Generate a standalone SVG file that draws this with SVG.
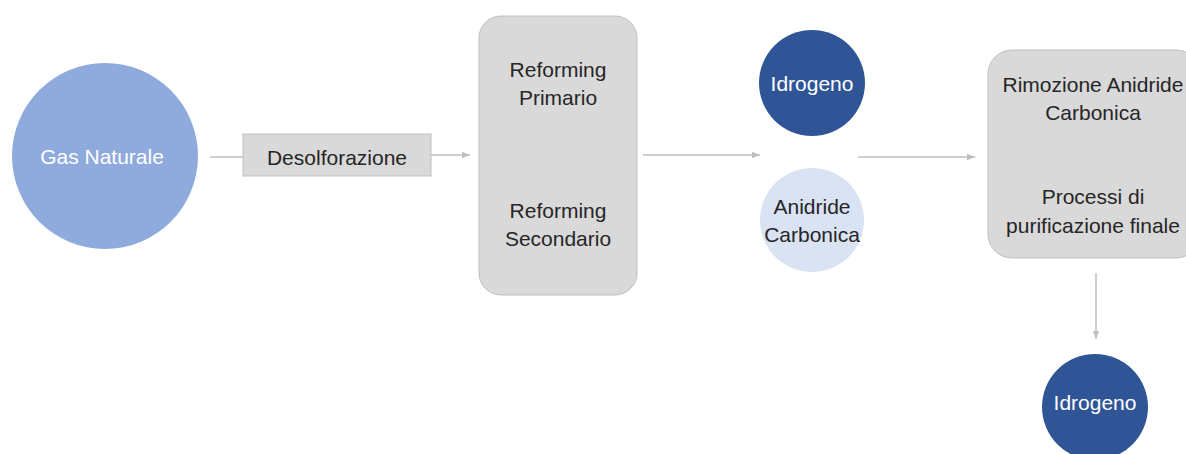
<svg xmlns="http://www.w3.org/2000/svg" width="1186" height="454" viewBox="0 0 1186 454">
  <defs>
    <marker id="arrow" viewBox="0 0 10 10" refX="10" refY="5" markerWidth="8" markerHeight="8" orient="auto" markerUnits="userSpaceOnUse">
      <path d="M0,1 L10,5 L0,9 Z" fill="#BFBFBF"/>
    </marker>
    <style>
      text { font-family: "Liberation Sans", Arial, sans-serif; font-size: 21px; text-anchor: middle; dominant-baseline: central; }
      .dark { fill: #262626; }
      .light { fill: #FFFFFF; }
      .box { fill: #D9D9D9; stroke: #BFBFBF; stroke-width: 1; }
      .conn { stroke: #BFBFBF; stroke-width: 1.5; fill: none; }
    </style>
  </defs>
  <rect width="1186" height="454" fill="#FFFFFF"/>

  <g id="connectors">
    <line class="conn" x1="210" y1="157" x2="243" y2="157"/>
    <line class="conn" x1="431" y1="155" x2="470" y2="155" marker-end="url(#arrow)"/>
    <line class="conn" x1="643" y1="155" x2="760" y2="155" marker-end="url(#arrow)"/>
    <line class="conn" x1="858" y1="157" x2="975" y2="157" marker-end="url(#arrow)"/>
    <line class="conn" x1="1096" y1="273" x2="1096" y2="339" marker-end="url(#arrow)"/>
  </g>

  <g id="gas-naturale">
    <circle cx="105" cy="156" r="93" fill="#8FAADC"/>
    <text class="light" x="102" y="156">Gas Naturale</text>
  </g>

  <g id="desolforazione">
    <rect class="box" x="243" y="134" width="188" height="42"/>
    <text class="dark" x="337" y="157">Desolforazione</text>
  </g>

  <g id="reforming">
    <rect class="box" x="479" y="16" width="158" height="279" rx="22"/>
    <text class="dark" x="558" y="69">Reforming</text>
    <text class="dark" x="558" y="97">Primario</text>
    <text class="dark" x="558" y="210">Reforming</text>
    <text class="dark" x="558" y="238">Secondario</text>
  </g>

  <g id="idrogeno-1">
    <circle cx="812" cy="83" r="53" fill="#2F5597"/>
    <text class="light" x="812" y="83">Idrogeno</text>
  </g>

  <g id="anidride-carbonica">
    <circle cx="812" cy="220" r="52" fill="#DAE3F3"/>
    <text class="dark" x="812" y="206">Anidride</text>
    <text class="dark" x="812" y="234">Carbonica</text>
  </g>

  <g id="purificazione">
    <rect class="box" x="988" y="50" width="212" height="208" rx="24"/>
    <text class="dark" x="1093" y="84">Rimozione Anidride</text>
    <text class="dark" x="1093" y="112">Carbonica</text>
    <text class="dark" x="1093" y="196">Processi di</text>
    <text class="dark" x="1093" y="225">purificazione finale</text>
  </g>

  <g id="idrogeno-2">
    <circle cx="1095" cy="407" r="53" fill="#2F5597"/>
    <text class="light" x="1095" y="402">Idrogeno</text>
  </g>
</svg>
